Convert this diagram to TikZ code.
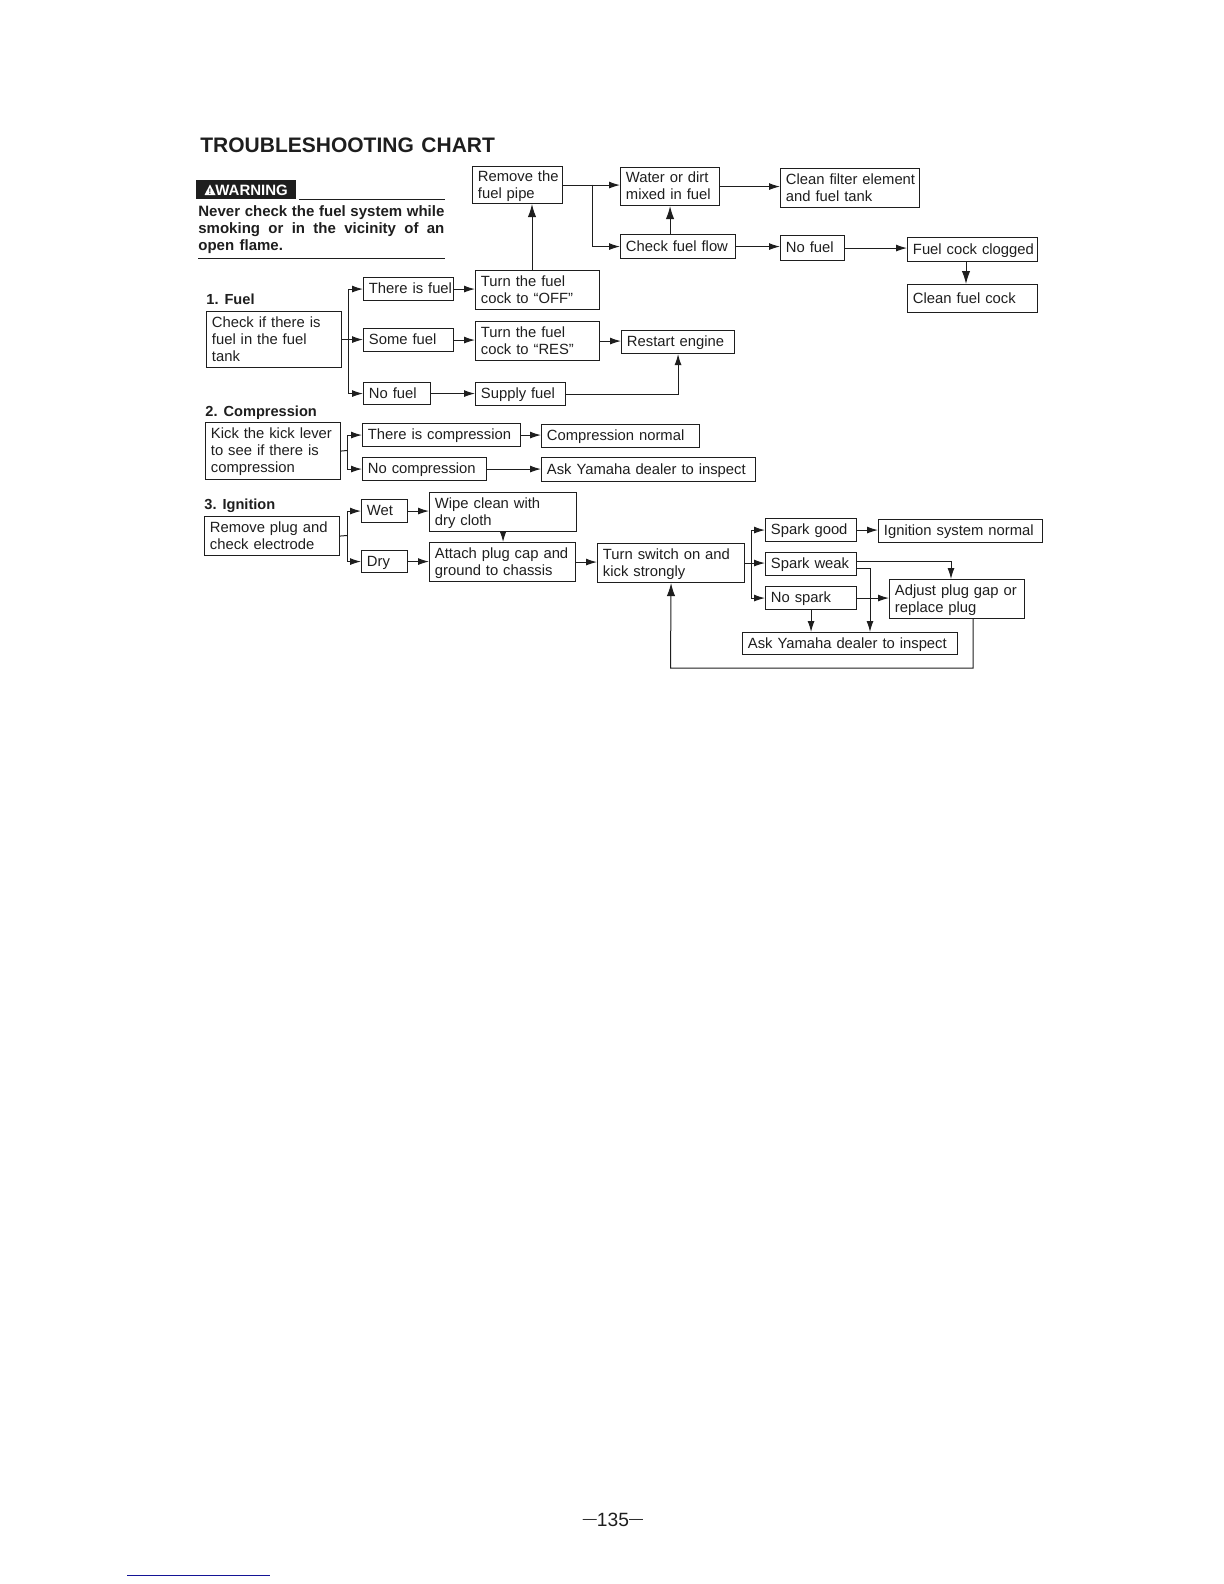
\documentclass[tikz,border=0pt]{standalone}
\usepackage{fontspec}
\setmainfont{Liberation Sans}[WordSpace=1.3]
\usetikzlibrary{arrows.meta}
\definecolor{chartink}{RGB}{30,30,30}
\definecolor{pagerule}{RGB}{20,20,150}
\newcommand{\boxstrut}{\rule[-1.95pt]{0pt}{8.5pt}}
\tikzset{
  chartbox/.style 2 args={draw=chartink,line width=0.55pt,anchor=north west,inner xsep=1pt,inner ysep=0pt,
    text=chartink,font=\fontsize{7.4}{8.5}\selectfont,text width=#1pt-2pt,minimum height=#2pt,align=left,
    execute at begin node={\leftskip=1.7pt\boxstrut},execute at end node={\boxstrut}},
  link/.style={draw=chartink,line width=0.5pt,-{Latex[length=5.5pt,width=3.5pt]}},
  linkbig/.style={draw=chartink,line width=0.5pt,-{Latex[length=6.5pt,width=4.2pt]}},
  headnode/.style={anchor=base west,inner sep=0pt,text=chartink,font=\fontsize{7.3}{8.5}\selectfont\bfseries}
}
\begin{document}
\begin{tikzpicture}[x=0.5pt,y=-0.5pt]
      \useasboundingbox (0,0) rectangle (1224,1584);
      \node[anchor=base west,inner sep=0pt,text=chartink,font=\fontsize{10.5}{12}\selectfont\bfseries] (chartTitle) at (200,152) {TROUBLESHOOTING CHART};
      \node[anchor=north west,fill=chartink,inner sep=0pt,minimum width=50pt,minimum height=9.5pt] (warnBox) at (196,180) {};
      \node[anchor=base west,inner sep=0pt,text=white,font=\fontsize{7.5}{8.5}\selectfont\bfseries] (warnWord) at (215,195) {WARNING};
      \fill[white] (204.5,195) -- (210,184.5) -- (215.5,195) -- cycle;
      \node[inner sep=0pt,text=chartink,font=\fontsize{4}{4}\selectfont\bfseries] (warnMark) at (210,191.5) {!};
      \draw[chartink,line width=0.4pt] (299,199) -- (445,199);
      \node[anchor=north west,inner sep=0pt,text width=123pt,align=justify,text=chartink,font=\fontsize{7.5}{8.5}\selectfont\bfseries] (warnText) at (198,205)
        {Never check the fuel system while smoking or in the vicinity of an open flame.};
      \draw[chartink,line width=0.4pt] (198,258) -- (445,258);

      \node[headnode] (headFuel) at (206,304) {1.\hspace{3pt}Fuel};
      \node[headnode] (headComp) at (205,416) {2.\hspace{3pt}Compression};
      \node[headnode] (headIgn) at (204,509) {3.\hspace{3pt}Ignition};

      \node[chartbox={45}{18.5}] (removePipe) at (472,166) {Remove the\\fuel pipe};
      \node[chartbox={49.5}{19}] (water) at (620,167) {Water or dirt\\mixed in fuel};
      \node[chartbox={69.5}{19.5}] (cleanFilter) at (780,168) {Clean filter element\\and fuel tank};
      \node[chartbox={57.5}{12}] (checkFlow) at (620,234) {Check fuel flow};
      \node[chartbox={32}{12.5}] (noFlow) at (780,235) {No fuel};
      \node[chartbox={65}{12}] (clogged) at (907,237) {Fuel cock clogged};
      \node[chartbox={65}{14}] (cleanCock) at (907,284) {Clean fuel cock};

      \node[chartbox={67.5}{28}] (checkFuel) at (206,311) {Check if there is\\fuel in the fuel\\tank};
      \node[chartbox={45}{11.5}] (thereFuel) at (363,277) {\mbox{There is fuel}};
      \node[chartbox={45}{11.5}] (someFuel) at (363,328) {Some fuel};
      \node[chartbox={33.5}{11}] (noFuel) at (363,382) {No fuel};
      \node[chartbox={62}{19.5}] (turnOff) at (475,270) {Turn the fuel\\cock to ``OFF''};
      \node[chartbox={62}{19.5}] (turnRes) at (475,321) {Turn the fuel\\cock to ``RES''};
      \node[chartbox={45}{11.5}] (supplyFuel) at (475,382) {Supply fuel};
      \node[chartbox={56.5}{11.5}] (restart) at (621,330) {Restart engine};

      \node[chartbox={67.5}{28.5}] (kickLever) at (205,422) {Kick the kick lever\\to see if there is\\compression};
      \node[chartbox={79}{11.5}] (thereComp) at (362,423) {There is compression};
      \node[chartbox={62}{11.5}] (noComp) at (362,457) {No compression};
      \node[chartbox={79}{11.5}] (compNormal) at (541,424) {Compression normal};
      \node[chartbox={107}{12}] (askComp) at (541,457) {Ask Yamaha dealer to inspect};

      \node[chartbox={67.5}{19.5}] (removePlug) at (204,516) {Remove plug and\\check electrode};
      \node[chartbox={23}{11.5}] (wetPlug) at (361,499) {Wet};
      \node[chartbox={23}{11}] (dryPlug) at (361,550) {Dry};
      \node[chartbox={73.5}{19.5}] (wipeClean) at (429,492) {Wipe clean with\\dry cloth};
      \node[chartbox={73}{19.5}] (attachCap) at (429,542) {Attach plug cap and\\ground to chassis};
      \node[chartbox={73.5}{19.5}] (turnSwitch) at (597,543) {Turn switch on and\\kick strongly};
      \node[chartbox={45.5}{11.5}] (sparkGood) at (765,518) {Spark good};
      \node[chartbox={45.5}{11.5}] (sparkWeak) at (765,552) {Spark weak};
      \node[chartbox={45.5}{11.5}] (noSpark) at (765,586) {No spark};
      \node[chartbox={82}{11.5}] (ignNormal) at (878,519) {Ignition system normal};
      \node[chartbox={67.5}{19.5}] (adjustPlug) at (889,579) {Adjust plug gap or\\replace plug};
      \node[chartbox={107.5}{11}] (askIgn) at (742,632) {Ask Yamaha dealer to inspect};

      \coordinate (pipeBranch) at (592,184.5);
      \coordinate (offUp) at (532,270);
      \coordinate (cockDown) at (966,261);
      \coordinate (fuelBus) at (348,339);
      \coordinate (compBus) at (347,450.5);
      \coordinate (ignBus) at (347,535.5);
      \coordinate (switchBus) at (751,562.5);
      \coordinate (weakHigh) at (856,561);
      \coordinate (weakLow) at (856,568);
      \coordinate (adjustIn) at (951,579);
      \coordinate (askIn) at (870,632);
      \coordinate (adjustOut) at (973,618);
      \coordinate (backLow) at (670.5,668);

      \draw[linkbig] (offUp) -- (offUp |- removePipe.south);
      \draw[link] (removePipe.east) -- (removePipe.east -| water.west);
      \draw[link] (pipeBranch) |- (checkFlow.west);
      \draw[link] (water.east) -- (water.east -| cleanFilter.west);
      \draw[linkbig] (water.south |- checkFlow.north) -- (water.south);
      \draw[link] (checkFlow.east) -- (checkFlow.east -| noFlow.west);
      \draw[link] (noFlow.east) -- (noFlow.east -| clogged.west);
      \draw[linkbig] (cockDown) -- (cockDown |- cleanCock.north);

      \draw[link] (checkFuel.east) -- (checkFuel.east -| someFuel.west);
      \draw[link] (fuelBus) |- (thereFuel.west);
      \draw[link] (fuelBus) |- (noFuel.west);
      \draw[link] (thereFuel.east) -- (thereFuel.east -| turnOff.west);
      \draw[link] (someFuel.east) -- (someFuel.east -| turnRes.west);
      \draw[link] (noFuel.east) -- (noFuel.east -| supplyFuel.west);
      \draw[link] (turnRes.east) -- (turnRes.east -| restart.west);
      \draw[link] (supplyFuel.east) -| (restart.south);

      \draw[chartink,line width=0.5pt] (kickLever.east) -- (compBus);
      \draw[link] (compBus) |- (thereComp.west);
      \draw[link] (compBus) |- (noComp.west);
      \draw[link] (thereComp.east) -- (thereComp.east -| compNormal.west);
      \draw[link] (noComp.east) -- (noComp.east -| askComp.west);

      \draw[chartink,line width=0.5pt] (removePlug.east) -- (ignBus);
      \draw[link] (ignBus) |- (wetPlug.west);
      \draw[link] (ignBus) |- (dryPlug.west);
      \draw[link] (wetPlug.east) -- (wetPlug.east -| wipeClean.west);
      \draw[link] (dryPlug.east) -- (dryPlug.east -| attachCap.west);
      \draw[link] (wipeClean.south) -- (wipeClean.south |- attachCap.north);
      \draw[link] (attachCap.east) -- (attachCap.east -| turnSwitch.west);
      \draw[link] (turnSwitch.east) -- (turnSwitch.east -| sparkWeak.west);
      \draw[link] (switchBus) |- (sparkGood.west);
      \draw[link] (switchBus) |- (noSpark.west);
      \draw[link] (sparkGood.east) -- (sparkGood.east -| ignNormal.west);
      \draw[link] (weakHigh) -| (adjustIn);
      \draw[link] (weakLow) -| (askIn);
      \draw[link] (noSpark.east) -- (noSpark.east -| adjustPlug.west);
      \draw[link] (noSpark.south) -- (noSpark.south |- askIgn.north);
      \draw[linkbig] (adjustOut) |- (backLow) -- (turnSwitch.south);

      \node[anchor=base,inner sep=0pt,text=chartink,font=\fontsize{9.6}{11}\selectfont] (pageNum) at (613,1526)
        {\raisebox{1.3pt}{\fontsize{7}{7}\selectfont —}135\raisebox{1.3pt}{\fontsize{7}{7}\selectfont —}};
      \draw[pagerule,line width=0.5pt] (127,1575) -- (270,1575);
    \end{tikzpicture}
\end{document}
